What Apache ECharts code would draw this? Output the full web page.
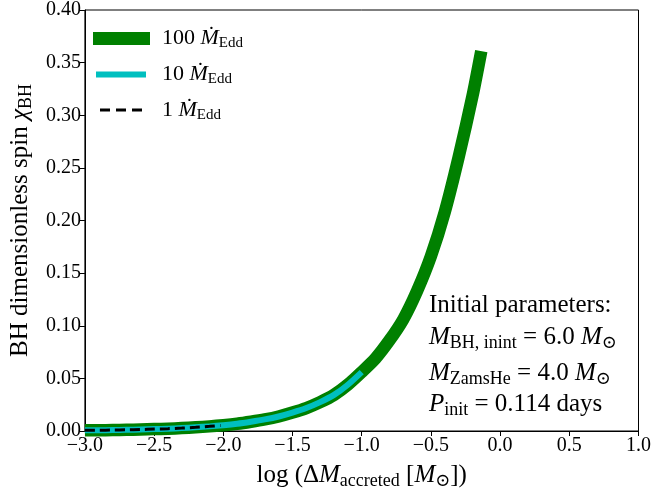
<!DOCTYPE html>
<html>
<head>
<meta charset="utf-8">
<script src="https://cdn.jsdelivr.net/npm/echarts@6/dist/echarts.min.js"></script>
<style>
html,body{margin:0;padding:0;background:#fff;}
#chart{width:654px;height:495px;}
</style>
</head>
<body>
<div id="chart"></div>
<script>
// ---- data ----
const logM100 = [-3.0, -2.9, -2.8, -2.7, -2.6, -2.5, -2.4, -2.3, -2.2, -2.1, -2.0, -1.9, -1.8, -1.7, -1.6, -1.5, -1.4, -1.3, -1.2, -1.1, -1.0, -0.9, -0.8, -0.7, -0.6, -0.5, -0.4, -0.3, -0.2, -0.136];
const spin100 = [0.0006, 0.0007, 0.0009, 0.0011, 0.0014, 0.0018, 0.0022, 0.0028, 0.0035, 0.0044, 0.0055, 0.0069, 0.0088, 0.0110, 0.0138, 0.0175, 0.0218, 0.0274, 0.0343, 0.0440, 0.0560, 0.069, 0.086, 0.106, 0.133, 0.166, 0.208, 0.260, 0.318, 0.361];
const logM10 = [-3.0, -2.9, -2.8, -2.7, -2.6, -2.5, -2.4, -2.3, -2.2, -2.1, -2.0, -1.9, -1.8, -1.7, -1.6, -1.5, -1.4, -1.3, -1.2, -1.1, -1.0];
const spin10 = [0.0006, 0.0007, 0.0009, 0.0011, 0.0014, 0.0018, 0.0022, 0.0028, 0.0035, 0.0044, 0.0055, 0.0069, 0.0088, 0.0110, 0.0138, 0.0175, 0.0218, 0.0274, 0.0343, 0.0440, 0.0560];
const logM1 = [-3.0, -2.9, -2.8, -2.7, -2.6, -2.5, -2.4, -2.3, -2.2, -2.1, -2.02];
const spin1 = [0.0006, 0.0007, 0.0009, 0.0011, 0.0014, 0.0018, 0.0022, 0.0028, 0.0035, 0.0044, 0.0053];
const seriesNames = ['100', '10', '1'];
const xTicks = {min: -3.0, max: 1.0, step: 0.5};
const yTicks = {min: 0, max: 0.40, step: 0.05};
const annotationLines = [
  'Initial parameters:',
  '{i|M}{s|BH, inint}{r| = 6.0 }{i|M}{s|⊙}',
  '{i|M}{s|ZamsHe}{r| = 4.0 }{i|M}{s|⊙}',
  '{i|P}{s|init}{r| = 0.114 days}'
];

const SERIF = '"Liberation Serif", "DejaVu Serif", serif';
const rich = (size) => ({
  r: {fontFamily: SERIF, fontSize: size, color: '#000'},
  i: {fontFamily: SERIF, fontSize: size, fontStyle: 'italic', color: '#000'},
  s: {fontFamily: SERIF, fontSize: Math.round(size * 0.7), color: '#000', padding: [Math.round(size*0.45), 0, 0, 0]}
});

const zip = (xs, ys) => xs.map((x, k) => [x, ys[k]]);
const fmtMinus = (v, d) => (v < 0 ? '\u2212' + Math.abs(v).toFixed(d) : v.toFixed(d));

const chart = echarts.init(document.getElementById('chart'), null, {renderer: 'canvas'});

const legendCommon = {
  orient: 'vertical',
  selectedMode: false,
  padding: 0,
  textStyle: {fontFamily: SERIF, fontSize: 22, color: '#000', rich: rich(22)},
  formatter: (name) => '{r|' + name + ' }{i|Ṁ}{s|Edd}'
};

const option = {
  animation: false,
  backgroundColor: '#fff',
  grid: {left: 79, right: 15, top: 6, bottom: 53, show: true, borderColor: '#000', borderWidth: 1, backgroundColor: 'transparent'},
  xAxis: {
    type: 'value', min: xTicks.min, max: xTicks.max, interval: xTicks.step,
    axisLine: {onZero: false, lineStyle: {color: '#000', width: 1}},
    axisTick: {inside: false, length: 5, lineStyle: {color: '#000', width: 1}},
    axisLabel: {fontFamily: SERIF, fontSize: 20, color: '#000', margin: 5, formatter: (v) => fmtMinus(v, 1)},
    splitLine: {show: false},
    name: 'log (Δ{i|M}{s|accreted} [{i|M}{s|⊙}])',
    nameLocation: 'middle', nameGap: 30,
    nameTextStyle: {fontFamily: SERIF, fontSize: 25, color: '#000', rich: rich(25)}
  },
  yAxis: {
    type: 'value', min: yTicks.min, max: yTicks.max, interval: yTicks.step,
    axisLine: {show: true, onZero: false, lineStyle: {color: '#000', width: 1}},
    axisTick: {show: true, inside: false, length: 5, lineStyle: {color: '#000', width: 1}},
    axisLabel: {fontFamily: SERIF, fontSize: 20, color: '#000', margin: 4, formatter: (v) => v.toFixed(2)},
    splitLine: {show: false},
    name: 'BH dimensionless spin {i|χ}{s|BH}',
    nameLocation: 'middle', nameGap: 48, nameRotate: 90,
    nameTextStyle: {fontFamily: SERIF, fontSize: 25, color: '#000', rich: rich(25)}
  },
  legend: [
    Object.assign({}, legendCommon, {
      left: 93, top: 27.5, itemWidth: 57, itemHeight: 13, icon: 'rect',
      itemStyle: {color: '#008000', borderWidth: 0},
      data: [seriesNames[0]],
      textStyle: Object.assign({}, legendCommon.textStyle, {padding: [0, 0, 0, 7]})
    }),
    Object.assign({}, legendCommon, {
      left: 96, top: 63.5, itemWidth: 50, itemHeight: 6, icon: 'rect',
      itemStyle: {color: '#00bfbf', borderWidth: 0},
      data: [seriesNames[1]],
      textStyle: Object.assign({}, legendCommon.textStyle, {padding: [0, 0, 0, 11]})
    }),
    Object.assign({}, legendCommon, {
      left: 100, top: 99, itemWidth: 42, itemHeight: 3,
      icon: 'path://M0,0h10v3h-10z M16,0h10v3h-10z M32,0h10v3h-10z',
      itemStyle: {color: '#000', borderWidth: 0},
      data: [seriesNames[2]],
      textStyle: Object.assign({}, legendCommon.textStyle, {padding: [0, 0, 0, 15]})
    })
  ],
  series: [
    {
      name: seriesNames[0], type: 'line', data: zip(logM100, spin100),
      showSymbol: false, symbol: 'none', smooth: 0.25, clip: true,
      itemStyle: {color: '#008000'},
      lineStyle: {color: '#008000', width: 12.5, cap: 'butt', join: 'round'}, z: 2
    },
    {
      name: seriesNames[1], type: 'line', data: zip(logM10, spin10),
      showSymbol: false, symbol: 'none', smooth: 0.25, clip: true,
      itemStyle: {color: '#00bfbf'},
      lineStyle: {color: '#00bfbf', width: 6, cap: 'butt', join: 'round'}, z: 3
    },
    {
      name: seriesNames[2], type: 'line', data: zip(logM1, spin1),
      showSymbol: false, symbol: 'none', smooth: 0.25, clip: true,
      itemStyle: {color: '#000'},
      lineStyle: {color: '#000', width: 3, type: [10, 5], cap: 'butt'}, z: 4
    }
  ],
  graphic: annotationLines.map((t, k) => ({
    type: 'text', left: 429, top: [293, 325, 361, 392][k], z: 10,
    style: {text: t, fontFamily: SERIF, fontSize: 25, fill: '#000', rich: rich(25)}
  }))
};
chart.setOption(option);
</script>
</body>
</html>
